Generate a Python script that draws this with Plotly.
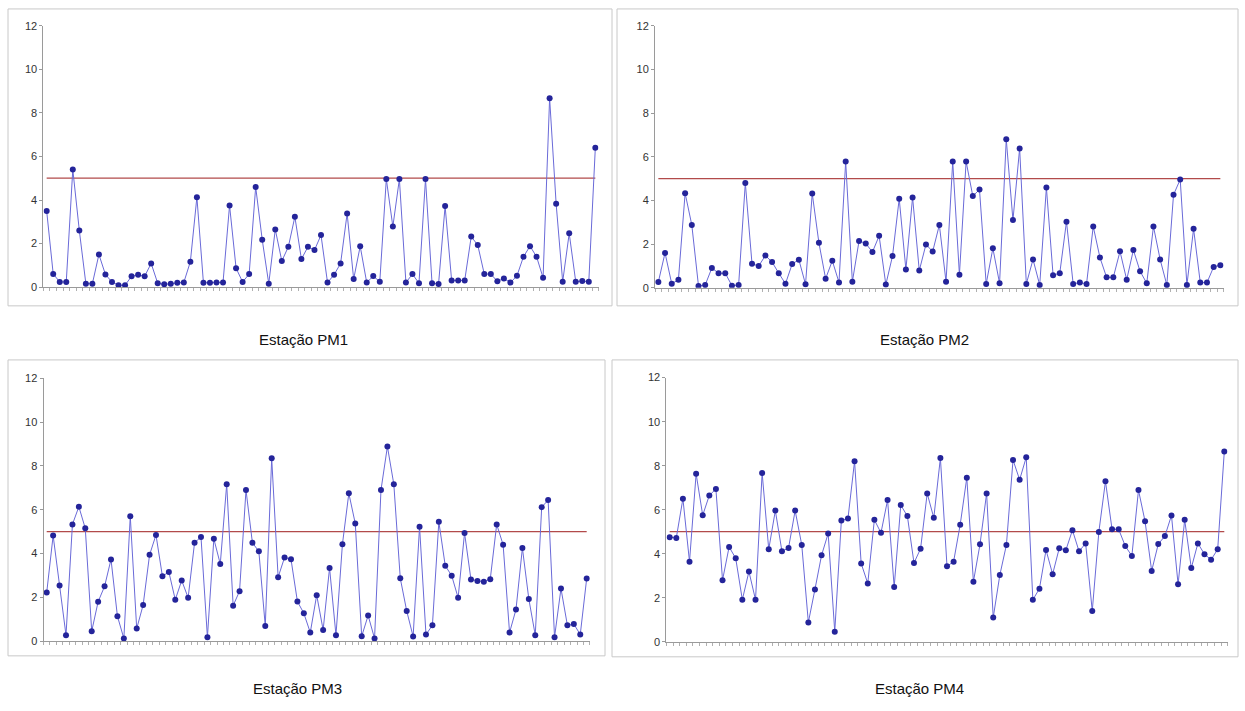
import plotly.graph_objects as go

W, H = 1245, 711

titles = ["Estação PM1", "Estação PM2", "Estação PM3", "Estação PM4"]
LIMIT = 5
y_ticks = [0, 2, 4, 6, 8, 10, 12]

pm1 = [3.5, 0.61, 0.24, 0.24, 5.4, 2.6, 0.16, 0.16, 1.5, 0.58, 0.24, 0.09, 0.09, 0.5, 0.57,
       0.5, 1.09, 0.18, 0.13, 0.16, 0.2, 0.22, 1.17, 4.13, 0.2, 0.2, 0.22, 0.22, 3.75, 0.87,
       0.24, 0.6, 4.6, 2.18, 0.16, 2.65, 1.2, 1.85, 3.23, 1.29, 1.85, 1.7, 2.39, 0.21, 0.57,
       1.09, 3.38, 0.37, 1.88, 0.21, 0.51, 0.25, 4.96, 2.78, 4.96, 0.21, 0.6, 0.18, 4.96, 0.18,
       0.15, 3.72, 0.31, 0.31, 0.31, 2.32, 1.93, 0.6, 0.6, 0.27, 0.4, 0.21, 0.52, 1.4, 1.88,
       1.4, 0.43, 8.67, 3.83, 0.25, 2.47, 0.25, 0.28, 0.25, 6.4]

pm2 = [0.27, 1.6, 0.19, 0.37, 4.33, 2.88, 0.09, 0.13, 0.91, 0.67, 0.67, 0.1, 0.13, 4.8, 1.1,
       1.0, 1.48, 1.18, 0.67, 0.19, 1.09, 1.29, 0.16, 4.32, 2.06, 0.42, 1.24, 0.25, 5.78, 0.28,
       2.15, 2.03, 1.64, 2.38, 0.15, 1.46, 4.08, 0.84, 4.14, 0.79, 1.99, 1.66, 2.88, 0.28, 5.78,
       0.6, 5.78, 4.2, 4.5, 0.18, 1.81, 0.21, 6.8, 3.1, 6.38, 0.18, 1.3, 0.13, 4.59, 0.58,
       0.67, 3.03, 0.18, 0.24, 0.18, 2.81, 1.39, 0.48, 0.48, 1.67, 0.37, 1.73, 0.76, 0.21, 2.81,
       1.3, 0.13, 4.26, 4.96, 0.13, 2.7, 0.24, 0.24, 0.96, 1.03]

pm3 = [2.22, 4.82, 2.54, 0.27, 5.33, 6.14, 5.15, 0.45, 1.8, 2.5, 3.73, 1.14, 0.12, 5.7, 0.57,
       1.65, 3.94, 4.85, 2.96, 3.16, 1.89, 2.77, 1.98, 4.49, 4.76, 0.18, 4.67, 3.52, 7.16, 1.62,
       2.28, 6.9, 4.49, 4.1, 0.69, 8.35, 2.92, 3.82, 3.74, 1.81, 1.27, 0.39, 2.1, 0.51, 3.34,
       0.27, 4.42, 6.75, 5.37, 0.22, 1.17, 0.12, 6.9, 8.89, 7.16, 2.87, 1.38, 0.21, 5.22, 0.3,
       0.72, 5.45, 3.44, 2.99, 1.98, 4.94, 2.81, 2.75, 2.71, 2.83, 5.33, 4.4, 0.39, 1.44, 4.25,
       1.92, 0.27, 6.12, 6.44, 0.18, 2.4, 0.72, 0.78, 0.3, 2.86]

pm4 = [4.75, 4.72, 6.5, 3.64, 7.63, 5.75, 6.65, 6.94, 2.8, 4.31, 3.79, 1.91, 3.19, 1.91, 7.67,
       4.2, 5.96, 4.11, 4.26, 5.96, 4.4, 0.88, 2.38, 3.93, 4.92, 0.46, 5.51, 5.6, 8.2, 3.56,
       2.65, 5.54, 4.95, 6.44, 2.49, 6.21, 5.71, 3.58, 4.23, 6.74, 5.63, 8.35, 3.43, 3.64, 5.32,
       7.45, 2.73, 4.43, 6.74, 1.1, 3.03, 4.4, 8.26, 7.36, 8.38, 1.91, 2.41, 4.17, 3.07, 4.25,
       4.16, 5.07, 4.11, 4.47, 1.4, 4.99, 7.29, 5.11, 5.11, 4.35, 3.9, 6.89, 5.47, 3.22, 4.44,
       4.8, 5.74, 2.61, 5.54, 3.35, 4.47, 3.98, 3.73, 4.2, 8.64]

series = [pm1, pm2, pm3, pm4]

# pixel geometry of each plot area: (x0, x1, y_top, y_bottom)
areas = [(43.4, 598.6, 20, 286), (655.0, 1223.7, 20, 286.7),
         (43.5, 589.9, 378.8, 646), (666.4, 1227.6, 378, 646.7)]
boxes = [(8, 3, 612, 305), (617, 3, 1238, 305), (8, 360, 605, 661), (612, 360, 1238, 662)]
title_pos = [(303, 339), (924, 339), (297, 694), (919, 694)]

LINE_COLOR = "#6a6ad8"
MARK_COLOR = "#24249a"
LIMIT_COLOR = "#b24a4a"

fig = go.Figure()
shapes = []
annotations = []

for i, vals in enumerate(series):
    n = i + 1
    xs = list(range(len(vals)))
    xa = "x" if n == 1 else f"x{n}"
    ya = "y" if n == 1 else f"y{n}"
    fig.add_trace(go.Scatter(x=[xs[0], xs[-1]], y=[LIMIT, LIMIT], mode="lines",
                             line=dict(color=LIMIT_COLOR, width=1.2), xaxis=xa, yaxis=ya,
                             showlegend=False, hoverinfo="skip"))
    fig.add_trace(go.Scatter(x=xs, y=vals, mode="lines+markers",
                             line=dict(color=LINE_COLOR, width=1),
                             marker=dict(color=MARK_COLOR, size=6, line=dict(color=MARK_COLOR, width=0)),
                             xaxis=xa, yaxis=ya, showlegend=False))
    x0, x1, yt, yb = areas[i]
    xkey = "xaxis" if n == 1 else f"xaxis{n}"
    ykey = "yaxis" if n == 1 else f"yaxis{n}"
    fig.layout[xkey] = dict(domain=[x0 / W, x1 / W], range=[-0.5, len(vals) - 0.5],
                            anchor=ya, showgrid=False, zeroline=False, showline=True,
                            linecolor="#9a9a9a", linewidth=1, ticks="outside", ticklen=3,
                            tickcolor="#b0b0b0", tickmode="linear", tick0=-0.5, dtick=1,
                            showticklabels=False, fixedrange=True)
    fig.layout[ykey] = dict(domain=[1 - yb / H, 1 - yt / H], range=[0, 12], anchor=xa,
                            showgrid=False, zeroline=False, showline=True,
                            linecolor="#9a9a9a", linewidth=1, ticks="outside", ticklen=3,
                            tickcolor="#9a9a9a", tickvals=y_ticks,
                            tickfont=dict(family="Liberation Sans, Arial", size=11, color="#333333"),
                            fixedrange=True)
    bx0, by0, bx1, by1 = boxes[i]
    shapes.append(dict(type="rect", xref="paper", yref="paper",
                       x0=bx0 / W, x1=bx1 / W, y0=1 - by1 / H, y1=1 - by0 / H,
                       line=dict(color="#c8c8c8", width=1), fillcolor="rgba(0,0,0,0)", layer="below"))
    tx, ty = title_pos[i]
    annotations.append(dict(text=titles[i], xref="paper", yref="paper", x=tx / W, y=1 - ty / H,
                            showarrow=False, xanchor="center", yanchor="middle",
                            font=dict(family="Liberation Sans, Arial", size=15, color="#111111")))

fig.update_layout(width=W, height=H, margin=dict(l=0, r=0, t=0, b=0),
                  paper_bgcolor="white", plot_bgcolor="white",
                  shapes=shapes, annotations=annotations)

fig.write_html("out.html", config={"displayModeBar": False},
               post_script="document.body.style.margin='0';document.body.style.overflow='hidden';")
